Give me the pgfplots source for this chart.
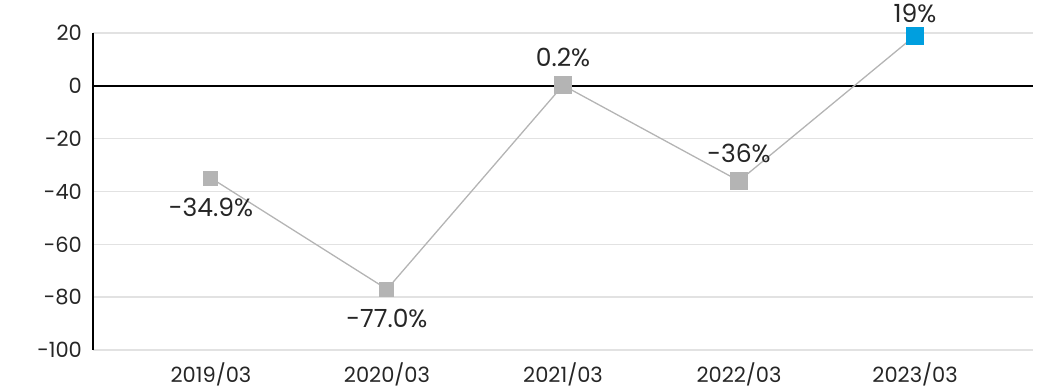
\documentclass[border=0pt]{standalone}
\usepackage{pgfplots}
\pgfplotsset{compat=1.18}
\usepackage{fontspec}
\setmainfont{Poppins}
\definecolor{lg}{HTML}{B4B4B4}
\definecolor{gridc}{HTML}{E2E2E2}
\definecolor{blu}{HTML}{009FDF}
\begin{document}
\begin{tikzpicture}
\useasboundingbox (-46.5pt,-20pt) rectangle (473.5pt,175pt);
\begin{axis}[
  at={(0,0)}, anchor=south west,
  scale only axis, width=470pt, height=158.5pt,
  xmin=-0.67, xmax=4.67, ymin=-100, ymax=20,
  clip=false,
  axis y line*=left, axis x line*=bottom,
  x axis line style={draw=none},
  y axis line style={black, line width=0.75pt},
  ymajorgrids, grid style={draw=gridc, line width=0.8pt},
  xtick={0,1,2,3,4},
  xticklabels={2019/03,2020/03,2021/03,2022/03,2023/03},
  ytick={-100,-80,-60,-40,-20,0,20},
  yticklabels={-100,-80,-60,-40,-20,0,20},
  major tick length=0pt,
  tick label style={font=\fontsize{10.5}{12}\selectfont, text=black!85},
  yticklabel style={xshift=-2pt},
  xticklabel style={yshift=-3pt},
]
\addplot[black, line width=0.75pt, forget plot] coordinates {(-0.67,0) (4.67,0)};
\addplot[lg, line width=0.65pt, mark=none] coordinates {(0,-34.9) (1,-77.0) (2,0.2) (3,-36) (4,19)};
\addplot[lg, only marks, mark=square*, mark size=3.5pt, mark options={fill=lg, draw=lg, line width=0pt}] coordinates {(0,-34.9) (1,-77.0)};
\addplot[lg, only marks, mark=square*, mark size=4.25pt, mark options={fill=lg, draw=lg, line width=0pt}] coordinates {(2,0.2) (3,-36)};
\addplot[blu, only marks, mark=square*, mark size=4.25pt, mark options={fill=blu, draw=blu, line width=0pt}] coordinates {(4,19)};
% labels below
\addplot[only marks, mark=none, point meta=explicit symbolic,
  nodes near coords, nodes near coords align={center},
  every node near coord/.append style={yshift=-14.5pt, font=\fontsize{12.5}{14}\selectfont, text=black!85}]
  coordinates {(0,-34.9) [-34.9\%] (1,-77.0) [-77.0\%]};
% labels above
\addplot[only marks, mark=none, point meta=explicit symbolic,
  nodes near coords, nodes near coords align={center},
  every node near coord/.append style={yshift=14pt, font=\fontsize{12.5}{14}\selectfont, text=black!85}]
  coordinates {(2,0.2) [0.2\%] (3,-36) [-36\%]};
\addplot[only marks, mark=none, point meta=explicit symbolic,
  nodes near coords, nodes near coords align={center},
  every node near coord/.append style={yshift=11pt, font=\fontsize{12.5}{14}\selectfont, text=black!85}]
  coordinates {(4,19) [19\%]};
\end{axis}
\end{tikzpicture}
\end{document}
